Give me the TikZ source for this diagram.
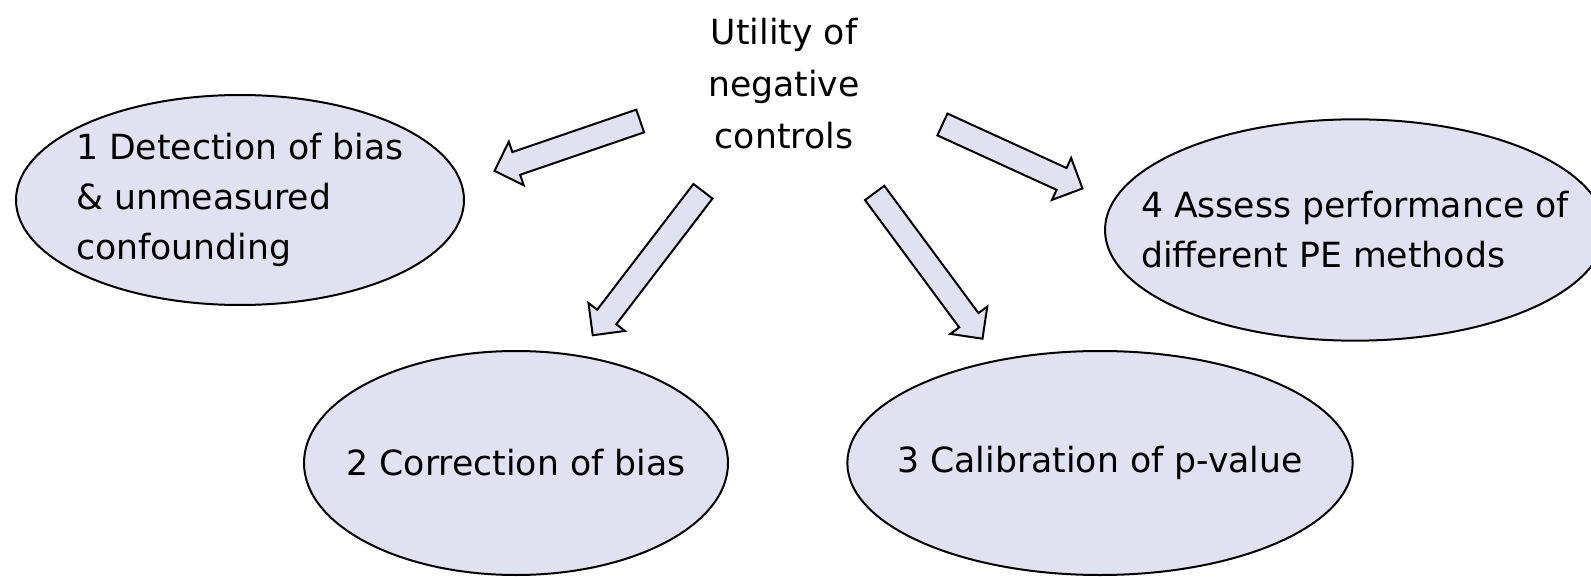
\documentclass[tikz,border=0pt]{standalone}
\usepackage{fontspec}
\setmainfont{DejaVu Sans}
\usetikzlibrary{shapes.geometric,shapes.arrows}
\definecolor{lavender}{RGB}{224,226,241}
\begin{document}
\begin{tikzpicture}[x=0.75pt, y=-0.75pt,
    every node/.style={font=\fontsize{26}{37.5}\selectfont},
    bubble/.style={ellipse, draw, fill=lavender, line width=1.5pt, inner xsep=-60pt, inner ysep=0pt, align=left},
    blockarrow/.style={single arrow, draw, fill=lavender, line width=1.5pt, inner sep=8.25pt, single arrow head extend=8.25pt, sloped, allow upside down}]
    \useasboundingbox (0,0) rectangle (1591,577);
    % centre text
    \node[align=center, font=\fontsize{26}{39}\selectfont] (utility) at (784,84) {Utility of\\negative\\controls};
    % the four uses
    \node[bubble, minimum width=336pt, minimum height=157.5pt] (detect) at (240,200) {1 Detection of bias\\\& unmeasured\\confounding};
    \node[bubble, minimum width=318pt, minimum height=168pt] (correct) at (516,463) {2 Correction of bias};
    \node[bubble, minimum width=379pt, minimum height=168pt] (calib) at (1100,463) {3 Calibration of p-value};
    \node[bubble, minimum width=375pt, minimum height=166pt] (assess) at (1355,230) {4 Assess performance of\\different PE methods};
    % block arrows
    \coordinate (t1) at (646,119); \coordinate (h1) at (500,169);
    \coordinate (t2) at (707,186); \coordinate (h2) at (596,331);
    \coordinate (t3) at (871,188); \coordinate (h3) at (979,334);
    \coordinate (t4) at (937,122); \coordinate (h4) at (1077,186);
    \path (t1) -- node[blockarrow, minimum height=115.5pt] (a1) {} (h1);
    \path (t2) -- node[blockarrow, minimum height=136pt] (a2) {} (h2);
    \path (t3) -- node[blockarrow, minimum height=136pt] (a3) {} (h3);
    \path (t4) -- node[blockarrow, minimum height=115.5pt] (a4) {} (h4);
\end{tikzpicture}
\end{document}
